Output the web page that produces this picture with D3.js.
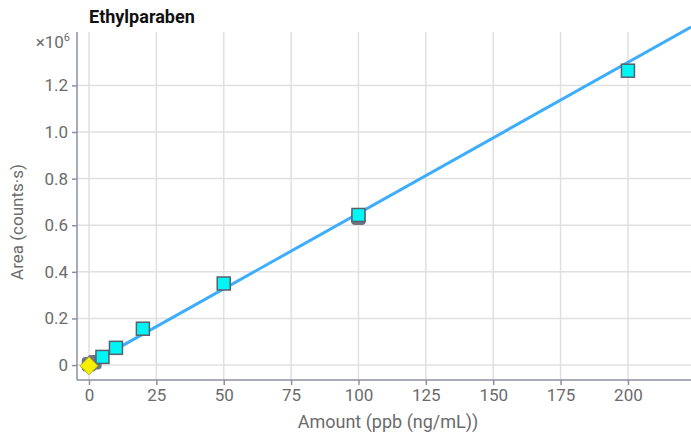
<!DOCTYPE html>
<html lang="en">
<head>
  <meta charset="UTF-8" />
  <title>Ethylparaben</title>
  <script src="https://cdnjs.cloudflare.com/ajax/libs/d3/7.8.4/d3.min.js"></script>
  <style>
    body { margin: 0; background: #fff; font-family: Roboto, Arial, sans-serif; overflow: hidden; }
    .grid line { stroke: #e0e0e0; stroke-width: 1.5px; }
    .axis text { fill: #6b6b6b; font-size: 17px; font-family: Roboto, sans-serif; }
    .axis path, .axis line { stroke: #8a8fa3; stroke-width: 1.5px; }
  </style>
</head>
<body>
  <svg width="691" height="440"></svg>
  <script>
    // calibration levels (ppb) and responses (x10^6 counts·s)
    const amounts = [5, 10, 20, 50, 100, 200];
    const areas = [0.035, 0.074, 0.156, 0.35, 0.644, 1.263];
    // replicate points drawn behind in gray
    const repAmounts = [0, 2, 100];
    const repAreas = [0.004, 0.012, 0.632];
    // blank / unknown sample
    const sampleAmount = [0];
    const sampleArea = [-0.003];
    // fitted curve
    const fitSlope = 0.00648;
    const fitIntercept = 0.003;
    const xTicks = [0, 25, 50, 75, 100, 125, 150, 175, 200];
    const yTicks = [0, 0.2, 0.4, 0.6, 0.8, 1.0, 1.2];

    const svg = d3.select("svg");
    const m = { left: 77, right: 691, top: 32, bottom: 380 };

    const x = d3.scaleLinear().domain([-4.45, 223.4]).range([m.left, m.right]);
    const y = d3.scaleLinear().domain([-0.064, 1.429]).range([m.bottom, m.top]);

    // grid
    svg.append("g").attr("class", "grid")
      .selectAll("line").data(xTicks).enter().append("line")
      .attr("x1", d => x(d)).attr("x2", d => x(d))
      .attr("y1", m.top).attr("y2", m.bottom);
    svg.append("g").attr("class", "grid")
      .selectAll("line").data(yTicks).enter().append("line")
      .attr("x1", m.left).attr("x2", m.right)
      .attr("y1", d => y(d)).attr("y2", d => y(d));

    // axes
    const xAxis = svg.append("g").attr("class", "axis")
      .attr("transform", `translate(0,${m.bottom})`)
      .call(d3.axisBottom(x).tickValues(xTicks).tickSize(5).tickSizeOuter(0).tickPadding(4));
    xAxis.select(".domain").attr("d", `M${m.left},0H${m.right}`);

    const yAxis = svg.append("g").attr("class", "axis")
      .attr("transform", `translate(${m.left},0)`)
      .call(d3.axisLeft(y).tickValues(yTicks).tickSize(5).tickSizeOuter(0).tickPadding(4)
        .tickFormat(d => d === 0 ? "0" : d3.format(".1f")(d)));
    yAxis.select(".domain").attr("d", `M0,${m.top}V${m.bottom}`);

    // exponent label
    const exp = svg.append("text").attr("x", 70).attr("y", 48)
      .attr("text-anchor", "end").attr("fill", "#6b6b6b")
      .style("font-size", "17px");
    exp.append("tspan").text("×10");
    exp.append("tspan").text("6").attr("dy", -7).style("font-size", "11px");

    // fit line
    const line = d3.line().x(d => x(d)).y(d => y(fitSlope * d + fitIntercept));
    svg.append("path")
      .datum([0, 223.4])
      .attr("d", line)
      .attr("fill", "none")
      .attr("stroke", "#3eaefc")
      .attr("stroke-width", 3);

    // replicate points
    svg.selectAll("rect.rep").data(repAmounts).enter().append("rect")
      .attr("class", "rep")
      .attr("x", d => x(d) - 6.5).attr("y", (d, i) => y(repAreas[i]) - 6.5)
      .attr("width", 13).attr("height", 13).attr("rx", 3)
      .attr("fill", "#6e7484").attr("stroke", "#6e7484").attr("stroke-width", 1.5);

    // calibration points
    svg.selectAll("rect.cal").data(amounts).enter().append("rect")
      .attr("class", "cal")
      .attr("x", d => x(d) - 6.5).attr("y", (d, i) => y(areas[i]) - 6.5)
      .attr("width", 13).attr("height", 13)
      .attr("fill", "#00f5f5").attr("stroke", "#5a5f6e").attr("stroke-width", 1.5);

    // sample diamond
    svg.selectAll("path.smp").data(sampleAmount).enter().append("path")
      .attr("class", "smp")
      .attr("transform", (d, i) => `translate(${x(d)},${y(sampleArea[i])})`)
      .attr("d", "M0,-9L9,0L0,9L-9,0Z")
      .attr("fill", "#f5f000").attr("stroke", "#b0a830").attr("stroke-width", 1);

    // titles
    svg.append("text").attr("x", 89).attr("y", 23)
      .style("font-size", "18px").style("font-weight", "bold").attr("fill", "#111")
      .text("Ethylparaben");
    svg.append("text").attr("x", 388).attr("y", 428)
      .attr("text-anchor", "middle").attr("fill", "#6b6b6b").style("font-size", "18px")
      .text("Amount (ppb (ng/mL))");
    svg.append("text")
      .attr("transform", `translate(23,222) rotate(-90)`)
      .attr("text-anchor", "middle").attr("fill", "#6b6b6b").style("font-size", "17px")
      .text("Area (counts·s)");
  </script>
</body>
</html>
